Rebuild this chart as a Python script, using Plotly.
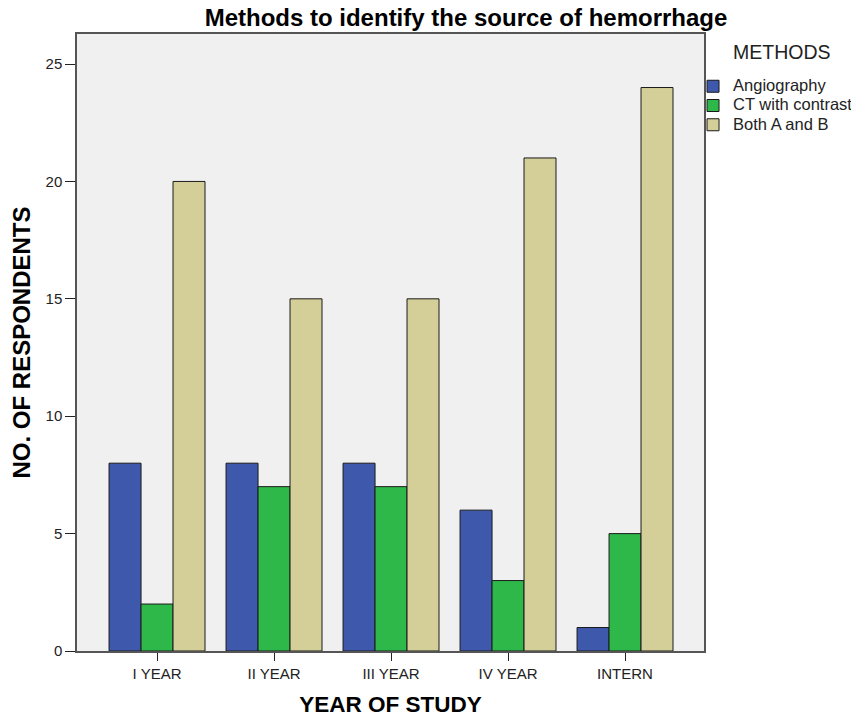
import plotly.graph_objects as go

categories = ["I YEAR", "II YEAR", "III YEAR", "IV YEAR", "INTERN"]
angiography = [8, 8, 8, 6, 1]
ct_contrast = [2, 7, 7, 3, 5]
both_ab = [20, 15, 15, 21, 24]
series_names = ["Angiography", "CT with contrast", "Both A and B"]
colors = ["#3e58ac", "#2fb84a", "#d4cf98"]
y_ticks = [0, 5, 10, 15, 20, 25]

fig = go.Figure()
for name, vals, col in zip(series_names, [angiography, ct_contrast, both_ab], colors):
    fig.add_trace(go.Bar(
        x=categories, y=vals,
        name="<span style='font-size:16.5px'>%s</span>" % name,
        marker=dict(color=col, line=dict(color="#1a1a1a", width=1)),
    ))

font_family = "Liberation Sans, Arial, sans-serif"
fig.update_layout(
    width=851, height=717,
    barmode="group", bargap=0.18, bargroupgap=0,
    plot_bgcolor="#f0f0f0", paper_bgcolor="white",
    margin=dict(l=77, r=147, t=34, b=66, autoexpand=False),
    font=dict(family=font_family, size=15, color="#222"),
    title=dict(text="<b>Methods to identify the source of hemorrhage</b>",
               x=0.5476, xanchor="center", y=0.975, yanchor="middle",
               font=dict(size=24, color="black", family=font_family)),
    legend=dict(x=0.9825, xanchor="left", y=0.939, yanchor="top",
                font=dict(size=12.5, color="#222"),
                bgcolor="rgba(0,0,0,0)", itemwidth=30, tracegroupgap=0),
    annotations=[dict(text="METHODS", xref="paper", yref="paper", x=1.043, y=0.971,
                      xanchor="left", yanchor="middle", showarrow=False,
                      font=dict(size=19.5, color="#222"))],
    xaxis=dict(
        range=[-0.684, 4.675], showline=True, linecolor="#555", linewidth=1.5, mirror=True,
        ticks="outside", ticklen=8, tickcolor="#222", automargin=False,
        title=dict(text="<b>YEAR OF STUDY</b>", font=dict(size=22.5, color="black"), standoff=18),
        tickfont=dict(size=15, color="#222"),
    ),
    yaxis=dict(
        range=[0, 26.28], tickvals=y_ticks, showgrid=False, zeroline=False,
        showline=True, linecolor="#555", linewidth=1.5, mirror=True,
        ticks="outside", ticklen=10, tickcolor="#222", automargin=False,
        title=dict(text="<b>NO. OF RESPONDENTS</b>", font=dict(size=24, color="black"), standoff=8),
        tickfont=dict(size=15, color="#222"),
    ),
)
fig.write_html("out.html", config={"displayModeBar": False},
               post_script="document.body.style.margin='0';")
